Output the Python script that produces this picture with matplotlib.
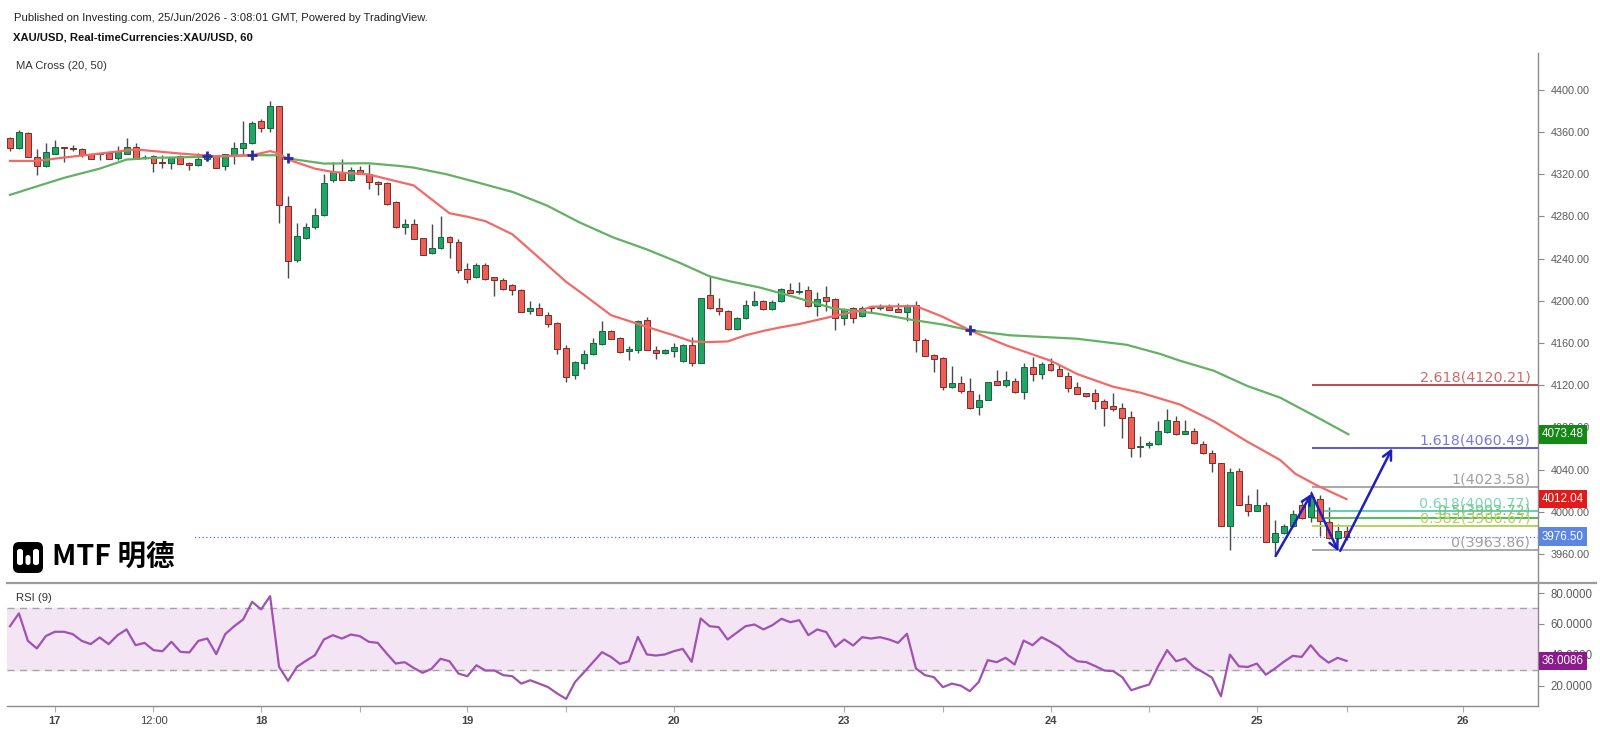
import matplotlib
matplotlib.use("Agg")
import matplotlib.pyplot as plt
from matplotlib.patches import FancyBboxPatch, Rectangle
from matplotlib.lines import Line2D
import numpy as np

plt.rcParams['font.family'] = ['Liberation Sans', 'Noto Sans CJK SC', 'DejaVu Sans']

# ---------------------------------------------------------------------------
# Data (XAU/USD, 1h candles)
# ---------------------------------------------------------------------------
opens = [4354.0, 4345.0, 4359.4, 4336.4, 4327.8, 4339.6, 4346.0, 4345.0, 4343.5, 4338.7,
         4339.5, 4340.3, 4335.5, 4339.6, 4346.0, 4336.0, 4337.0, 4331.5, 4330.7, 4337.0,
         4330.7, 4329.1, 4334.9, 4337.4, 4327.5, 4338.0, 4344.4, 4349.9, 4370.6, 4363.6,
         4385.0, 4290.1, 4239.0, 4259.8, 4270.0, 4281.5, 4314.7, 4322.3, 4314.7, 4324.3,
         4319.8, 4313.1, 4311.9, 4293.3, 4270.1, 4272.7, 4259.2, 4244.9, 4250.3, 4260.5,
         4256.0, 4230.5, 4222.2, 4233.7, 4222.2, 4220.0, 4215.2, 4210.4, 4190.3, 4192.8,
         4187.0, 4179.1, 4155.2, 4130.0, 4141.1, 4149.7, 4159.3, 4171.1, 4165.0, 4152.0,
         4153.5, 4181.7, 4153.5, 4150.7, 4152.3, 4143.3, 4158.3, 4141.1, 4205.6, 4192.8,
         4190.6, 4173.0, 4183.3, 4196.0, 4199.9, 4191.9, 4199.8, 4210.4, 4208.0, 4210.4,
         4195.4, 4203.3, 4201.7, 4183.9, 4193.4, 4185.5, 4194.4, 4192.8, 4194.4, 4192.2,
         4189.6, 4196.0, 4163.1, 4149.1, 4145.5, 4118.7, 4121.9, 4114.6, 4099.6, 4106.0,
         4124.2, 4120.3, 4124.2, 4113.6, 4136.9, 4130.5, 4140.1, 4135.3, 4128.9, 4118.7,
         4112.4, 4113.0, 4105.0, 4100.2, 4098.0, 4090.0, 4061.1, 4062.9, 4064.5, 4076.0,
         4086.5, 4074.2, 4076.3, 4064.4, 4055.5, 4045.9, 3986.2, 4038.6, 4007.0, 4000.6,
         4006.0, 3971.8, 3980.2, 3986.2, 4006.7, 3994.8, 4012.4, 3990.0, 3975.0, 3981.4]
highs = [4355.6, 4362.0, 4360.0, 4343.5, 4349.2, 4352.4, 4346.0, 4347.6, 4345.0, 4339.6,
         4340.3, 4341.2, 4346.7, 4354.0, 4349.2, 4338.0, 4338.0, 4338.0, 4336.4, 4338.0,
         4331.7, 4340.3, 4340.3, 4338.0, 4339.6, 4350.8, 4370.0, 4370.0, 4372.2, 4389.0,
         4385.0, 4299.7, 4274.2, 4274.2, 4287.9, 4319.8, 4331.7, 4334.9, 4326.9, 4327.5,
         4329.4, 4314.0, 4313.1, 4295.0, 4277.4, 4277.4, 4259.9, 4272.7, 4280.0, 4261.5,
         4258.3, 4235.9, 4235.9, 4235.9, 4222.2, 4221.6, 4216.1, 4211.4, 4199.9, 4197.6,
         4189.0, 4180.0, 4157.7, 4143.0, 4152.9, 4164.7, 4180.7, 4172.1, 4165.7, 4157.0,
         4181.7, 4184.9, 4156.7, 4154.5, 4160.3, 4159.3, 4165.7, 4203.0, 4223.2, 4202.4,
         4191.2, 4184.9, 4200.8, 4209.4, 4200.8, 4200.8, 4212.6, 4216.8, 4217.7, 4214.5,
         4208.8, 4213.6, 4203.0, 4193.4, 4194.4, 4195.4, 4195.0, 4196.6, 4196.6, 4197.6,
         4196.6, 4199.8, 4164.7, 4149.7, 4146.5, 4138.5, 4128.3, 4126.4, 4111.4, 4123.2,
         4134.7, 4133.1, 4127.3, 4141.1, 4146.5, 4142.4, 4145.9, 4140.1, 4132.1, 4122.6,
         4113.0, 4116.2, 4106.6, 4112.3, 4103.4, 4095.4, 4071.5, 4066.7, 4085.8, 4097.6,
         4091.2, 4087.4, 4079.5, 4066.7, 4058.7, 4046.6, 4041.1, 4041.1, 4015.6, 4022.0,
         4009.2, 3992.3, 3988.4, 4001.8, 4010.0, 4020.0, 4016.0, 4004.4, 3988.4, 3986.8]
lows = [4342.0, 4343.5, 4336.0, 4318.9, 4327.0, 4339.6, 4331.7, 4342.0, 4336.4, 4334.9,
        4333.3, 4334.0, 4333.9, 4339.0, 4334.0, 4334.0, 4322.1, 4326.0, 4325.3, 4330.0,
        4323.7, 4327.5, 4332.6, 4326.0, 4324.3, 4329.4, 4338.0, 4349.0, 4360.4, 4360.4,
        4274.2, 4222.0, 4237.0, 4258.2, 4267.8, 4280.6, 4312.5, 4314.7, 4314.0, 4319.8,
        4306.1, 4300.7, 4291.1, 4269.4, 4263.7, 4258.3, 4243.9, 4244.6, 4248.7, 4240.7,
        4226.4, 4216.8, 4221.6, 4220.0, 4205.0, 4210.4, 4205.6, 4189.0, 4187.4, 4186.4,
        4175.3, 4149.7, 4123.0, 4126.0, 4135.4, 4148.8, 4157.7, 4163.5, 4150.7, 4144.3,
        4150.7, 4152.9, 4145.0, 4149.7, 4146.5, 4142.4, 4138.6, 4141.1, 4192.2, 4186.4,
        4172.1, 4172.1, 4182.6, 4195.4, 4191.2, 4191.2, 4199.2, 4207.2, 4206.2, 4194.4,
        4185.8, 4190.3, 4172.0, 4176.8, 4179.4, 4184.8, 4188.0, 4191.2, 4191.2, 4189.0,
        4180.7, 4151.9, 4147.5, 4132.8, 4115.5, 4117.8, 4112.3, 4097.0, 4092.2, 4106.0,
        4120.3, 4118.7, 4113.0, 4106.6, 4124.2, 4125.8, 4133.7, 4128.3, 4113.6, 4111.4,
        4109.2, 4097.0, 4081.7, 4095.4, 4069.9, 4052.3, 4052.3, 4060.3, 4063.5, 4074.7,
        4073.1, 4074.2, 4064.5, 4054.9, 4038.0, 3986.2, 3963.5, 4006.0, 3996.4, 4000.6,
        3970.9, 3958.1, 3978.9, 3985.2, 3993.6, 3990.0, 3977.3, 3974.0, 3974.0, 3973.5]
closes = [4345.0, 4360.4, 4336.4, 4327.8, 4340.6, 4346.0, 4345.0, 4343.5, 4338.0, 4334.9,
          4340.3, 4334.9, 4341.9, 4346.0, 4334.9, 4336.8, 4330.7, 4331.0, 4336.4, 4330.0,
          4329.1, 4334.9, 4338.7, 4326.2, 4338.7, 4345.0, 4349.9, 4369.0, 4363.6, 4385.0,
          4291.0, 4238.0, 4261.4, 4270.0, 4281.5, 4311.9, 4322.3, 4314.7, 4323.7, 4319.8,
          4312.5, 4310.3, 4291.7, 4270.0, 4272.7, 4258.9, 4243.9, 4250.3, 4260.5, 4255.7,
          4229.6, 4220.9, 4233.7, 4220.6, 4219.3, 4211.4, 4209.8, 4189.6, 4192.8, 4186.4,
          4177.8, 4153.9, 4128.0, 4141.8, 4149.7, 4160.3, 4171.1, 4164.1, 4151.3, 4154.5,
          4180.7, 4153.5, 4150.7, 4153.5, 4156.1, 4158.3, 4141.1, 4202.4, 4192.8, 4190.6,
          4173.0, 4183.3, 4196.0, 4199.9, 4192.2, 4199.2, 4211.3, 4207.2, 4209.5, 4195.4,
          4201.7, 4200.1, 4183.9, 4192.2, 4183.9, 4193.4, 4192.8, 4194.4, 4191.2, 4189.6,
          4196.0, 4163.1, 4148.1, 4144.9, 4118.7, 4121.9, 4114.6, 4098.0, 4106.0, 4122.6,
          4120.3, 4124.8, 4113.6, 4136.9, 4130.5, 4140.1, 4134.7, 4128.3, 4117.8, 4111.4,
          4109.8, 4105.0, 4098.6, 4097.6, 4089.0, 4060.3, 4062.7, 4065.1, 4076.3, 4087.4,
          4074.2, 4076.3, 4065.1, 4055.5, 4045.9, 3986.2, 4037.9, 4006.6, 4000.6, 4006.0,
          3971.8, 3979.8, 3986.2, 3998.0, 3994.2, 4014.0, 3991.6, 3975.0, 3982.0, 3976.5]

# moving averages, read at points along the lines (bar index, price)
ma20_x = [0, 3, 6, 10, 14, 19, 23, 27, 29, 30, 31, 34, 36, 40, 43, 45, 49, 51, 53, 56,
          59, 62, 64, 67, 71, 74, 76, 78, 80, 82, 84, 86, 88, 92, 95, 96, 100, 101, 104, 107,
          111, 116, 119, 123, 126, 130.4, 134.2, 137.9, 141.6, 143.3, 145.7, 149]
ma20_v = [4332.6, 4332.6, 4335.8, 4339.6, 4343.5, 4339.6, 4337.0, 4338.0, 4341.9, 4339.6,
          4333.9, 4325.3, 4322.1, 4319.8, 4313.5, 4309.4, 4283.0, 4279.7, 4275.5, 4263.1,
          4240.7, 4218.0, 4205.6, 4186.4, 4175.3, 4167.3, 4161.5, 4160.9, 4161.5, 4167.3,
          4171.5, 4175.0, 4178.0, 4185.8, 4191.2, 4194.4, 4195.0, 4195.0, 4184.8, 4172.1,
          4158.0, 4143.3, 4130.5, 4118.5, 4113.0, 4101.8, 4085.8, 4066.7, 4049.1, 4036.0,
          4025.0, 4012.0]
ma50_x = [0, 3, 6, 10, 13, 16, 21, 27, 30, 31, 35, 40, 43.5, 45, 48.7, 52.4, 56.1, 59.9, 63.5, 67.3,
          71, 74.7, 78, 80.3, 83.6, 87.3, 91.8, 96.6, 100.3, 104, 107, 111.5, 118.9, 124.5, 128.2,
          130.4, 134.2, 137.9, 141.6, 145.5, 149.2]
ma50_v = [4300.4, 4308.5, 4316.5, 4325.3, 4333.9, 4335.5, 4336.4, 4338.0, 4338.0, 4334.9,
          4330.1, 4330.4, 4327.8, 4326.3, 4319.9, 4311.6, 4303.0, 4290.2, 4274.3, 4259.9,
          4248.7, 4235.9, 4223.2, 4218.4, 4212.6, 4204.0, 4192.8, 4188.0, 4182.3, 4177.5,
          4172.1, 4167.3, 4164.1, 4158.3, 4149.7, 4143.3, 4133.7, 4119.4, 4108.2, 4090.6,
          4073.5]
cross_x = [22, 27, 31, 107]
cross_v = [4337.0, 4338.0, 4335.0, 4172.0]

rsi = [58.5, 66.8, 49.0, 44.1, 52.1, 54.9, 54.9, 53.4, 49.0, 46.9,
       51.2, 46.9, 52.7, 56.4, 46.2, 47.7, 43.0, 42.3, 48.4, 41.9,
       41.5, 49.0, 50.5, 40.4, 53.4, 58.5, 62.9, 74.3, 69.4, 78.0,
       32.2, 23.1, 32.2, 36.1, 39.7, 49.9, 52.7, 50.5, 53.1, 52.1,
       48.4, 47.7, 40.8, 34.3, 35.2, 31.5, 28.3, 30.9, 37.4, 35.8,
       27.8, 26.1, 33.2, 29.8, 29.8, 26.8, 26.1, 21.3, 23.5, 21.3,
       19.0, 14.9, 11.4, 22.4, 28.7, 35.2, 41.7, 38.6, 34.1, 35.8,
       51.6, 40.2, 39.5, 40.2, 42.3, 43.8, 35.4, 63.5, 58.5, 57.9,
       49.9, 54.2, 58.5, 59.6, 56.4, 59.2, 63.3, 61.1, 62.4, 52.7,
       56.4, 54.7, 45.1, 49.9, 46.0, 51.4, 50.5, 51.4, 49.9, 47.7,
       53.6, 31.1, 26.8, 25.5, 19.0, 21.3, 20.0, 16.4, 22.4, 36.5,
       35.2, 38.0, 33.7, 49.2, 46.2, 51.4, 48.4, 44.9, 39.5, 35.8,
       35.2, 32.6, 29.8, 29.4, 25.5, 17.0, 19.0, 20.7, 32.6, 43.0,
       35.8, 37.6, 32.0, 28.7, 25.2, 13.1, 40.1, 32.5, 32.1, 34.3,
       27.1, 31.0, 35.4, 39.3, 38.6, 46.2, 39.3, 34.9, 38.0, 36.0]

# fibonacci extension drawn on the last swing
fib_ratio = ['2.618', '1.618', '1', '0.618', '0.5', '0.382', '0']
fib_price = [4120.21, 4060.49, 4023.58, 4000.77, 3993.72, 3986.67, 3963.86]
fib_line_col = ['#c24a4a', '#5a5ad2', '#a8a8a8', '#5fd0b4', '#55bb55', '#b5d35a', '#a8a8a8']
fib_text_col = ['#d06a6a', '#7a7ad8', '#a0a0a0', '#7bd6c0', '#74c474', '#b8cf62', '#a0a0a0']
fib_start = 145.2

# hand drawn arrows (bar index, price)
arrow_from = [(141.1, 3958.1), (145.1, 4017.2), (148.3, 3963.0)]
arrow_to = [(145.1, 4017.2), (148.1, 3962.3), (154.1, 4060.3)]

last_price = 3976.50
last_rsi = 36.0086
tick_pos = [5, 16, 28, 39, 51, 62, 74, 93, 104, 116, 127, 139, 149, 162]
tick_lab = ['17', '12:00', '18', '', '19', '', '20', '23', '', '24', '', '25', '', '26']

# ---------------------------------------------------------------------------
W, H = 1600, 734


def fx(px):
    return px / W


def fy(py):
    return 1 - py / H


fig = plt.figure(figsize=(16, 7.34), dpi=100)
ax = fig.add_axes([fx(7), fy(583), fx(1538) - fx(7), fy(52.7) - fy(583)])
rx = fig.add_axes([fx(7), fy(706), fx(1538) - fx(7), fy(583) - fy(706)], sharex=ax)

o = np.array(opens)
h = np.array(highs)
l = np.array(lows)
c = np.array(closes)
xs = np.arange(len(o))
up = c >= o

# candles
ax.vlines(xs, l, h, color='#4a4a4a', lw=1.0, zorder=2)
body_col = np.where(up, '#22a564', '#ea5f57')
edge_col = np.where(up, '#17653e', '#7a2e2a')
ax.bar(xs, np.maximum(np.abs(c - o), 0.8), bottom=np.minimum(o, c), width=0.66,
       color=body_col, edgecolor=edge_col, linewidth=0.7, zorder=3)

# MA cross
ax.plot(ma50_x, ma50_v, color='#63b163', lw=1.6, zorder=4)
ax.plot(ma20_x, ma20_v, color='#f06b68', lw=1.6, zorder=4)
ax.plot(cross_x, cross_v, linestyle='none', marker='+', ms=7, mew=2,
        color='#2b2ba8', zorder=5)

# current price line
ax.axhline(last_price, color='#4a74dc', lw=0.9, linestyle=(0, (1, 2)), zorder=1)

# fibonacci levels
x_right = (1538 - 10) / 8.97
for r, p, lc, tc in zip(fib_ratio, fib_price, fib_line_col, fib_text_col):
    ax.hlines(p, fib_start, x_right, color=lc, lw=1.4, zorder=2)
    ax.text(169.5, p + 0.6, f'{r}({p:.2f})', ha='right', va='bottom',
            color=tc, fontsize=10.3, family='DejaVu Sans', zorder=3)

for (x0, y0), (x1, y1) in zip(arrow_from, arrow_to):
    ax.annotate('', xy=(x1, y1), xytext=(x0, y0), zorder=6,
                arrowprops=dict(arrowstyle='->', color='#1f1fc0', lw=1.8,
                                mutation_scale=16, shrinkA=0, shrinkB=0))

ax.set_xlim(-0.33, x_right)
ax.set_ylim(3932.5, 4435.2)
ax.set_yticks(np.arange(3960, 4401, 40))
ax.set_yticklabels([f'{v:.2f}' for v in np.arange(3960, 4401, 40)])

# RSI panel
rx.axhspan(30, 70, color='#f3e5f4', zorder=0)
for lev in (70, 30):
    rx.axhline(lev, color='#a5a5a5', lw=1.0, linestyle=(0, (5, 4)), zorder=1)
rx.plot(xs, rsi, color='#a052b2', lw=1.6, zorder=3)
rx.set_ylim(6.8, 86.5)
rx.set_yticks([20, 40, 60, 80])
rx.set_yticklabels(['20.0000', '40.0000', '60.0000', '80.0000'])
rx.set_xticks(tick_pos)
rx.set_xticklabels(tick_lab)
for t in rx.get_xticklabels():
    if t.get_text() != '12:00':
        t.set_fontweight('bold')

for a, fs in ((ax, 7.8), (rx, 8.3)):
    a.yaxis.tick_right()
    a.tick_params(axis='y', direction='out', length=4, width=0.8, colors='#8a8a8a',
                  labelcolor='#5a5a5a', labelsize=fs, pad=5)
    for s in ('top', 'left'):
        a.spines[s].set_visible(False)
    a.spines['right'].set_color('#8a8a8a')
    a.spines['right'].set_linewidth(1.0)
ax.spines['bottom'].set_visible(False)
ax.tick_params(axis='x', length=0, labelbottom=False)
rx.spines['bottom'].set_color('#8a8a8a')
rx.spines['bottom'].set_linewidth(1.0)
rx.tick_params(axis='x', direction='out', length=4, width=0.8, colors='#b0b0b0',
               labelcolor='#444444', labelsize=8, pad=3)

# panel separator
fig.add_artist(Line2D([fx(7), fx(1596)], [fy(583), fy(583)], color='#9c9c9c', lw=1.6))

# value boxes on the price scales
boxes = [(ax, 4073.48, '4073.48', '#138a13'),
         (ax, 4012.04, '4012.04', '#e11b1b'),
         (ax, last_price, f'{last_price:.2f}', '#5b87e2'),
         (rx, last_rsi, f'{last_rsi:.4f}', '#8c1a8c')]
for a, v, txt, col in boxes:
    a.text(1.0025, v, txt, transform=a.get_yaxis_transform(), ha='left', va='center',
           color='white', fontsize=8.4, clip_on=False, zorder=10,
           bbox=dict(boxstyle='square,pad=0.28', fc=col, ec='none'))

# header texts
fig.text(fx(14), fy(18), 'Published on Investing.com, 25/Jun/2026 - 3:08:01 GMT, Powered by TradingView.',
         fontsize=8.1, color='#222222', va='center')
fig.text(fx(13), fy(38), 'XAU/USD, Real-timeCurrencies:XAU/USD, 60',
         fontsize=8.1, color='#111111', fontweight='bold', va='center')
fig.text(fx(16), fy(66), 'MA Cross (20, 50)', fontsize=8.1, color='#333333', va='center')
fig.text(fx(16), fy(598), 'RSI (9)', fontsize=8.1, color='#333333', va='center')

# logo
fig.add_artist(Rectangle((0, fy(579)), fx(193), fy(527) - fy(579), transform=fig.transFigure,
                         fc='white', ec='none', zorder=20))
lg = fig.add_axes([fx(13), fy(573), fx(43) - fx(13), fy(542) - fy(573)], zorder=21)
lg.set_xlim(0, 30)
lg.set_ylim(0, 31)
lg.axis('off')
lg.add_patch(FancyBboxPatch((0, 0), 30, 31, boxstyle='round,pad=0,rounding_size=6',
                            fc='black', ec='none'))
for bx, by, bw, bh in [(4, 8, 6, 16), (12.5, 8, 5, 10), (20, 8, 6, 16)]:
    lg.add_patch(FancyBboxPatch((bx, by), bw, bh, boxstyle='round,pad=0,rounding_size=2.5',
                                fc='white', ec='none'))
fig.text(fx(52), fy(557), 'MTF 明德', fontsize=20.5, fontweight='bold',
         family=['Noto Sans CJK SC', 'DejaVu Sans'], color='black', va='center', zorder=22)

fig.savefig('out.png', dpi=100)
